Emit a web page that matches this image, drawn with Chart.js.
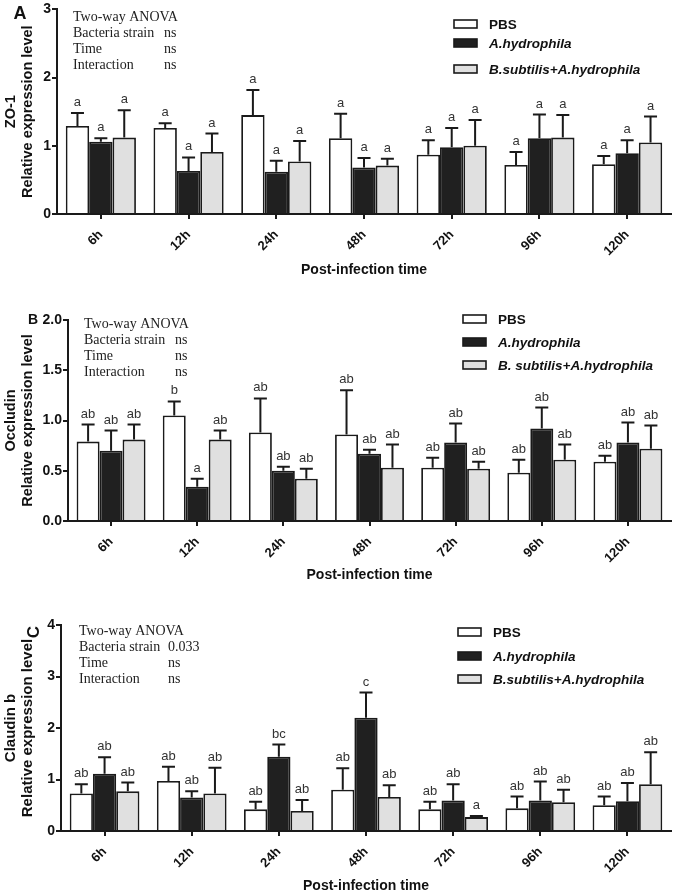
<!DOCTYPE html>
<html>
<head>
<meta charset="utf-8">
<script src="https://cdn.jsdelivr.net/npm/chart.js@4.4.1/dist/chart.umd.min.js"></script>
<style>
  body { margin: 0; background: #fff; width: 675px; height: 895px; overflow: hidden; }
  .panel { position: absolute; left: 0; }
</style>
</head>
<body>
<div class="panel" style="top:0px"><canvas id="chartA" width="675" height="295"></canvas></div>
<div class="panel" style="top:295px"><canvas id="chartB" width="675" height="295"></canvas></div>
<div class="panel" style="top:590px"><canvas id="chartC" width="675" height="305"></canvas></div>
<script>
/* data */
var timePoints = ["6h", "12h", "24h", "48h", "72h", "96h", "120h"];
var groupNames = ["PBS", "A.hydrophila", "B.subtilis+A.hydrophila"];
var groupNamesB = ["PBS", "A.hydrophila", "B. subtilis+A.hydrophila"];

// ZO-1 (means and error, upper bar only)
var zo1Pbs = [1.29, 1.26, 1.45, 1.11, 0.87, 0.72, 0.73];
var zo1PbsErr = [0.19, 0.07, 0.37, 0.36, 0.21, 0.19, 0.12];
var zo1Ah = [1.06, 0.63, 0.62, 0.68, 0.98, 1.11, 0.89];
var zo1AhErr = [0.05, 0.20, 0.16, 0.14, 0.28, 0.35, 0.19];
var zo1Bs = [1.12, 0.91, 0.77, 0.71, 1.00, 1.12, 1.05];
var zo1BsErr = [0.40, 0.27, 0.30, 0.10, 0.38, 0.33, 0.38];
var zo1Letters = [
  ["a", "a", "a", "a", "a", "a", "a"],
  ["a", "a", "a", "a", "a", "a", "a"],
  ["a", "a", "a", "a", "a", "a", "a"]
];

// Occludin
var occPbs = [0.79, 1.05, 0.88, 0.86, 0.53, 0.48, 0.59];
var occPbsErr = [0.17, 0.14, 0.34, 0.44, 0.10, 0.13, 0.06];
var occAh = [0.70, 0.34, 0.50, 0.67, 0.78, 0.92, 0.78];
var occAhErr = [0.20, 0.08, 0.04, 0.04, 0.19, 0.21, 0.20];
var occBs = [0.81, 0.81, 0.42, 0.53, 0.52, 0.61, 0.72];
var occBsErr = [0.15, 0.09, 0.10, 0.23, 0.07, 0.15, 0.23];
var occLetters = [
  ["ab", "b", "ab", "ab", "ab", "ab", "ab"],
  ["ab", "a", "ab", "ab", "ab", "ab", "ab"],
  ["ab", "ab", "ab", "ab", "ab", "ab", "ab"]
];

// Claudin b
var clPbs = [0.73, 0.97, 0.42, 0.80, 0.42, 0.44, 0.50];
var clPbsErr = [0.18, 0.28, 0.15, 0.42, 0.15, 0.23, 0.17];
var clAh = [1.11, 0.65, 1.44, 2.20, 0.59, 0.59, 0.58];
var clAhErr = [0.32, 0.12, 0.24, 0.49, 0.32, 0.37, 0.35];
var clBs = [0.77, 0.73, 0.39, 0.66, 0.27, 0.56, 0.91];
var clBsErr = [0.17, 0.50, 0.21, 0.23, 0.02, 0.24, 0.62];
var clLetters = [
  ["ab", "ab", "ab", "ab", "ab", "ab", "ab"],
  ["ab", "ab", "bc", "c", "ab", "ab", "ab"],
  ["ab", "ab", "ab", "ab", "a", "ab", "ab"]
];

var statsA = [["Two-way ANOVA", ""], ["Bacteria strain", "ns"], ["Time", "ns"], ["Interaction", "ns"]];
var statsB = [["Two-way ANOVA", ""], ["Bacteria strain", "ns"], ["Time", "ns"], ["Interaction", "ns"]];
var statsC = [["Two-way ANOVA", ""], ["Bacteria strain", "0.033"], ["Time", "ns"], ["Interaction", "ns"]];

var barColors = ["#ffffff", "#202020", "#e0e0e0"];
var SANS = "'Liberation Sans', Arial, sans-serif";
var SERIF = "'Liberation Serif', 'Times New Roman', serif";

/* error bars, letters, stats text, legend, panel letter */
const extrasPlugin = {
  id: "extras",
  afterDatasetsDraw(chart, args, opts) {
    const ctx = chart.ctx;
    const yScale = chart.scales.y;
    ctx.save();
    chart.data.datasets.forEach((ds, di) => {
      const meta = chart.getDatasetMeta(di);
      meta.data.forEach((bar, i) => {
        const top = yScale.getPixelForValue(ds.data[i] + opts.errors[di][i]);
        ctx.strokeStyle = "#1a1a1a";
        ctx.lineWidth = 2;
        ctx.beginPath();
        ctx.moveTo(bar.x, bar.y);
        ctx.lineTo(bar.x, top);
        ctx.moveTo(bar.x - 6.5, top);
        ctx.lineTo(bar.x + 6.5, top);
        ctx.stroke();
        ctx.fillStyle = "#333";
        ctx.font = "13px " + SANS;
        ctx.textAlign = "center";
        ctx.textBaseline = "bottom";
        ctx.fillText(opts.letters[di][i], bar.x, top - 4);
      });
    });
    ctx.restore();
  },
  afterDraw(chart, args, opts) {
    const ctx = chart.ctx;
    ctx.save();
    // stats block
    ctx.fillStyle = "#222";
    ctx.font = "14px " + SERIF;
    ctx.textAlign = "left";
    ctx.textBaseline = "middle";
    opts.stats.forEach((row, r) => {
      const y = opts.statsY + r * 16;
      ctx.fillText(row[0], opts.statsX, y);
      if (row[1]) ctx.fillText(row[1], opts.statsX2, y);
    });
    // legend
    chart.data.datasets.forEach((ds, di) => {
      const y = opts.legendY[di];
      ctx.fillStyle = ds.backgroundColor;
      ctx.fillRect(opts.legendX, y - 4, 23, 8);
      ctx.strokeStyle = "#1a1a1a";
      ctx.lineWidth = 1.6;
      ctx.strokeRect(opts.legendX, y - 4, 23, 8);
      ctx.fillStyle = "#111";
      ctx.font = (di === 0 ? "bold " : "italic bold ") + "13.5px " + SANS;
      ctx.textAlign = "left";
      ctx.textBaseline = "middle";
      ctx.fillText(ds.label, opts.legendX + 35, y + 1);
    });
    // panel letter
    ctx.fillStyle = "#111";
    ctx.font = "bold " + opts.panelSize + "px " + SANS;
    ctx.textAlign = "center";
    ctx.textBaseline = "middle";
    ctx.translate(opts.panelX, opts.panelY);
    if (opts.panelRotate) ctx.rotate(-Math.PI / 2);
    ctx.fillText(opts.panel, 0, 0);
    ctx.restore();
  }
};

function makePanel(id, cfg) {
  const canvas = document.getElementById(id);
  const H = canvas.height;
  return new Chart(canvas, {
    type: "bar",
    data: {
      labels: timePoints,
      datasets: [0, 1, 2].map((k) => ({
        label: cfg.names[k],
        data: cfg.means[k],
        backgroundColor: barColors[k],
        borderColor: "#1a1a1a",
        borderWidth: 1.8,
        categoryPercentage: 0.8,
        barPercentage: 1.0
      }))
    },
    options: {
      responsive: false,
      animation: false,
      layout: { padding: { left: 0, right: 675 - cfg.right, top: cfg.top, bottom: H - cfg.bottom - cfg.xHeight } },
      plugins: {
        legend: { display: false },
        tooltip: { enabled: false },
        extras: {
          errors: cfg.errors,
          letters: cfg.letters,
          stats: cfg.stats,
          statsX: cfg.statsX, statsX2: cfg.statsX2, statsY: cfg.statsY,
          legendX: cfg.legendX, legendY: cfg.legendY,
          panel: cfg.panel, panelX: cfg.panelX, panelY: cfg.panelY,
          panelSize: cfg.panelSize, panelRotate: cfg.panelRotate
        }
      },
      scales: {
        x: {
          offset: true,
          grid: { display: true, offset: false, drawOnChartArea: false, drawTicks: true, tickLength: 5, color: "#1a1a1a", lineWidth: 2 },
          border: { display: true, color: "#1a1a1a", width: 2 },
          ticks: { color: "#111", font: { family: SANS, size: 13, weight: "bold" }, minRotation: 45, maxRotation: 45, padding: 8 },
          title: { display: true, text: "Post-infection time", color: "#111", font: { family: SANS, size: 14, weight: "bold" }, padding: { top: 0, bottom: 0 } },
          afterFit: (s) => { s.height = cfg.xHeight; }
        },
        y: {
          min: 0,
          max: cfg.yMax,
          grid: { display: true, drawOnChartArea: false, drawTicks: true, tickLength: 5, color: "#1a1a1a", lineWidth: 2 },
          border: { display: true, color: "#1a1a1a", width: 2 },
          ticks: {
            stepSize: cfg.yStep,
            padding: 1,
            color: "#111",
            font: { family: SANS, size: 14, weight: "bold" },
            callback: (v) => cfg.yDecimals ? v.toFixed(1) : v
          },
          title: { display: true, text: [cfg.gene, "Relative expression level"], color: "#111", font: { family: SANS, size: cfg.titleSize, weight: "bold", lineHeight: 17 / cfg.titleSize }, padding: { top: 2, bottom: 0 } },
          afterFit: (s) => { s.width = cfg.left; }
        }
      }
    },
    plugins: [extrasPlugin]
  });
}

makePanel("chartA", {
  names: groupNames, gene: "ZO-1", titleSize: 14.5,
  means: [zo1Pbs, zo1Ah, zo1Bs], errors: [zo1PbsErr, zo1AhErr, zo1BsErr], letters: zo1Letters,
  yMax: 3, yStep: 1, yDecimals: false,
  left: 57, right: 671, top: 7, bottom: 214, xHeight: 65,
  stats: statsA, statsX: 73, statsX2: 164, statsY: 17,
  legendX: 454, legendY: [24, 43, 69],
  panel: "A", panelX: 20, panelY: 14, panelSize: 18, panelRotate: false
});

makePanel("chartB", {
  names: groupNamesB, gene: "Occludin", titleSize: 14.5,
  means: [occPbs, occAh, occBs], errors: [occPbsErr, occAhErr, occBsErr], letters: occLetters,
  yMax: 2, yStep: 0.5, yDecimals: true,
  left: 68, right: 671, top: 25, bottom: 226, xHeight: 63,
  stats: statsB, statsX: 84, statsX2: 175, statsY: 29,
  legendX: 463, legendY: [24, 47, 70],
  panel: "B", panelX: 33, panelY: 25, panelSize: 14, panelRotate: false
});

makePanel("chartC", {
  names: groupNames, gene: "Claudin b", titleSize: 15,
  means: [clPbs, clAh, clBs], errors: [clPbsErr, clAhErr, clBsErr], letters: clLetters,
  yMax: 4, yStep: 1, yDecimals: false,
  left: 61, right: 671, top: 35, bottom: 241, xHeight: 64,
  stats: statsC, statsX: 79, statsX2: 168, statsY: 41,
  legendX: 458, legendY: [42, 66, 89],
  panel: "C", panelX: 34, panelY: 42, panelSize: 17, panelRotate: true
});
</script>
</body>
</html>
